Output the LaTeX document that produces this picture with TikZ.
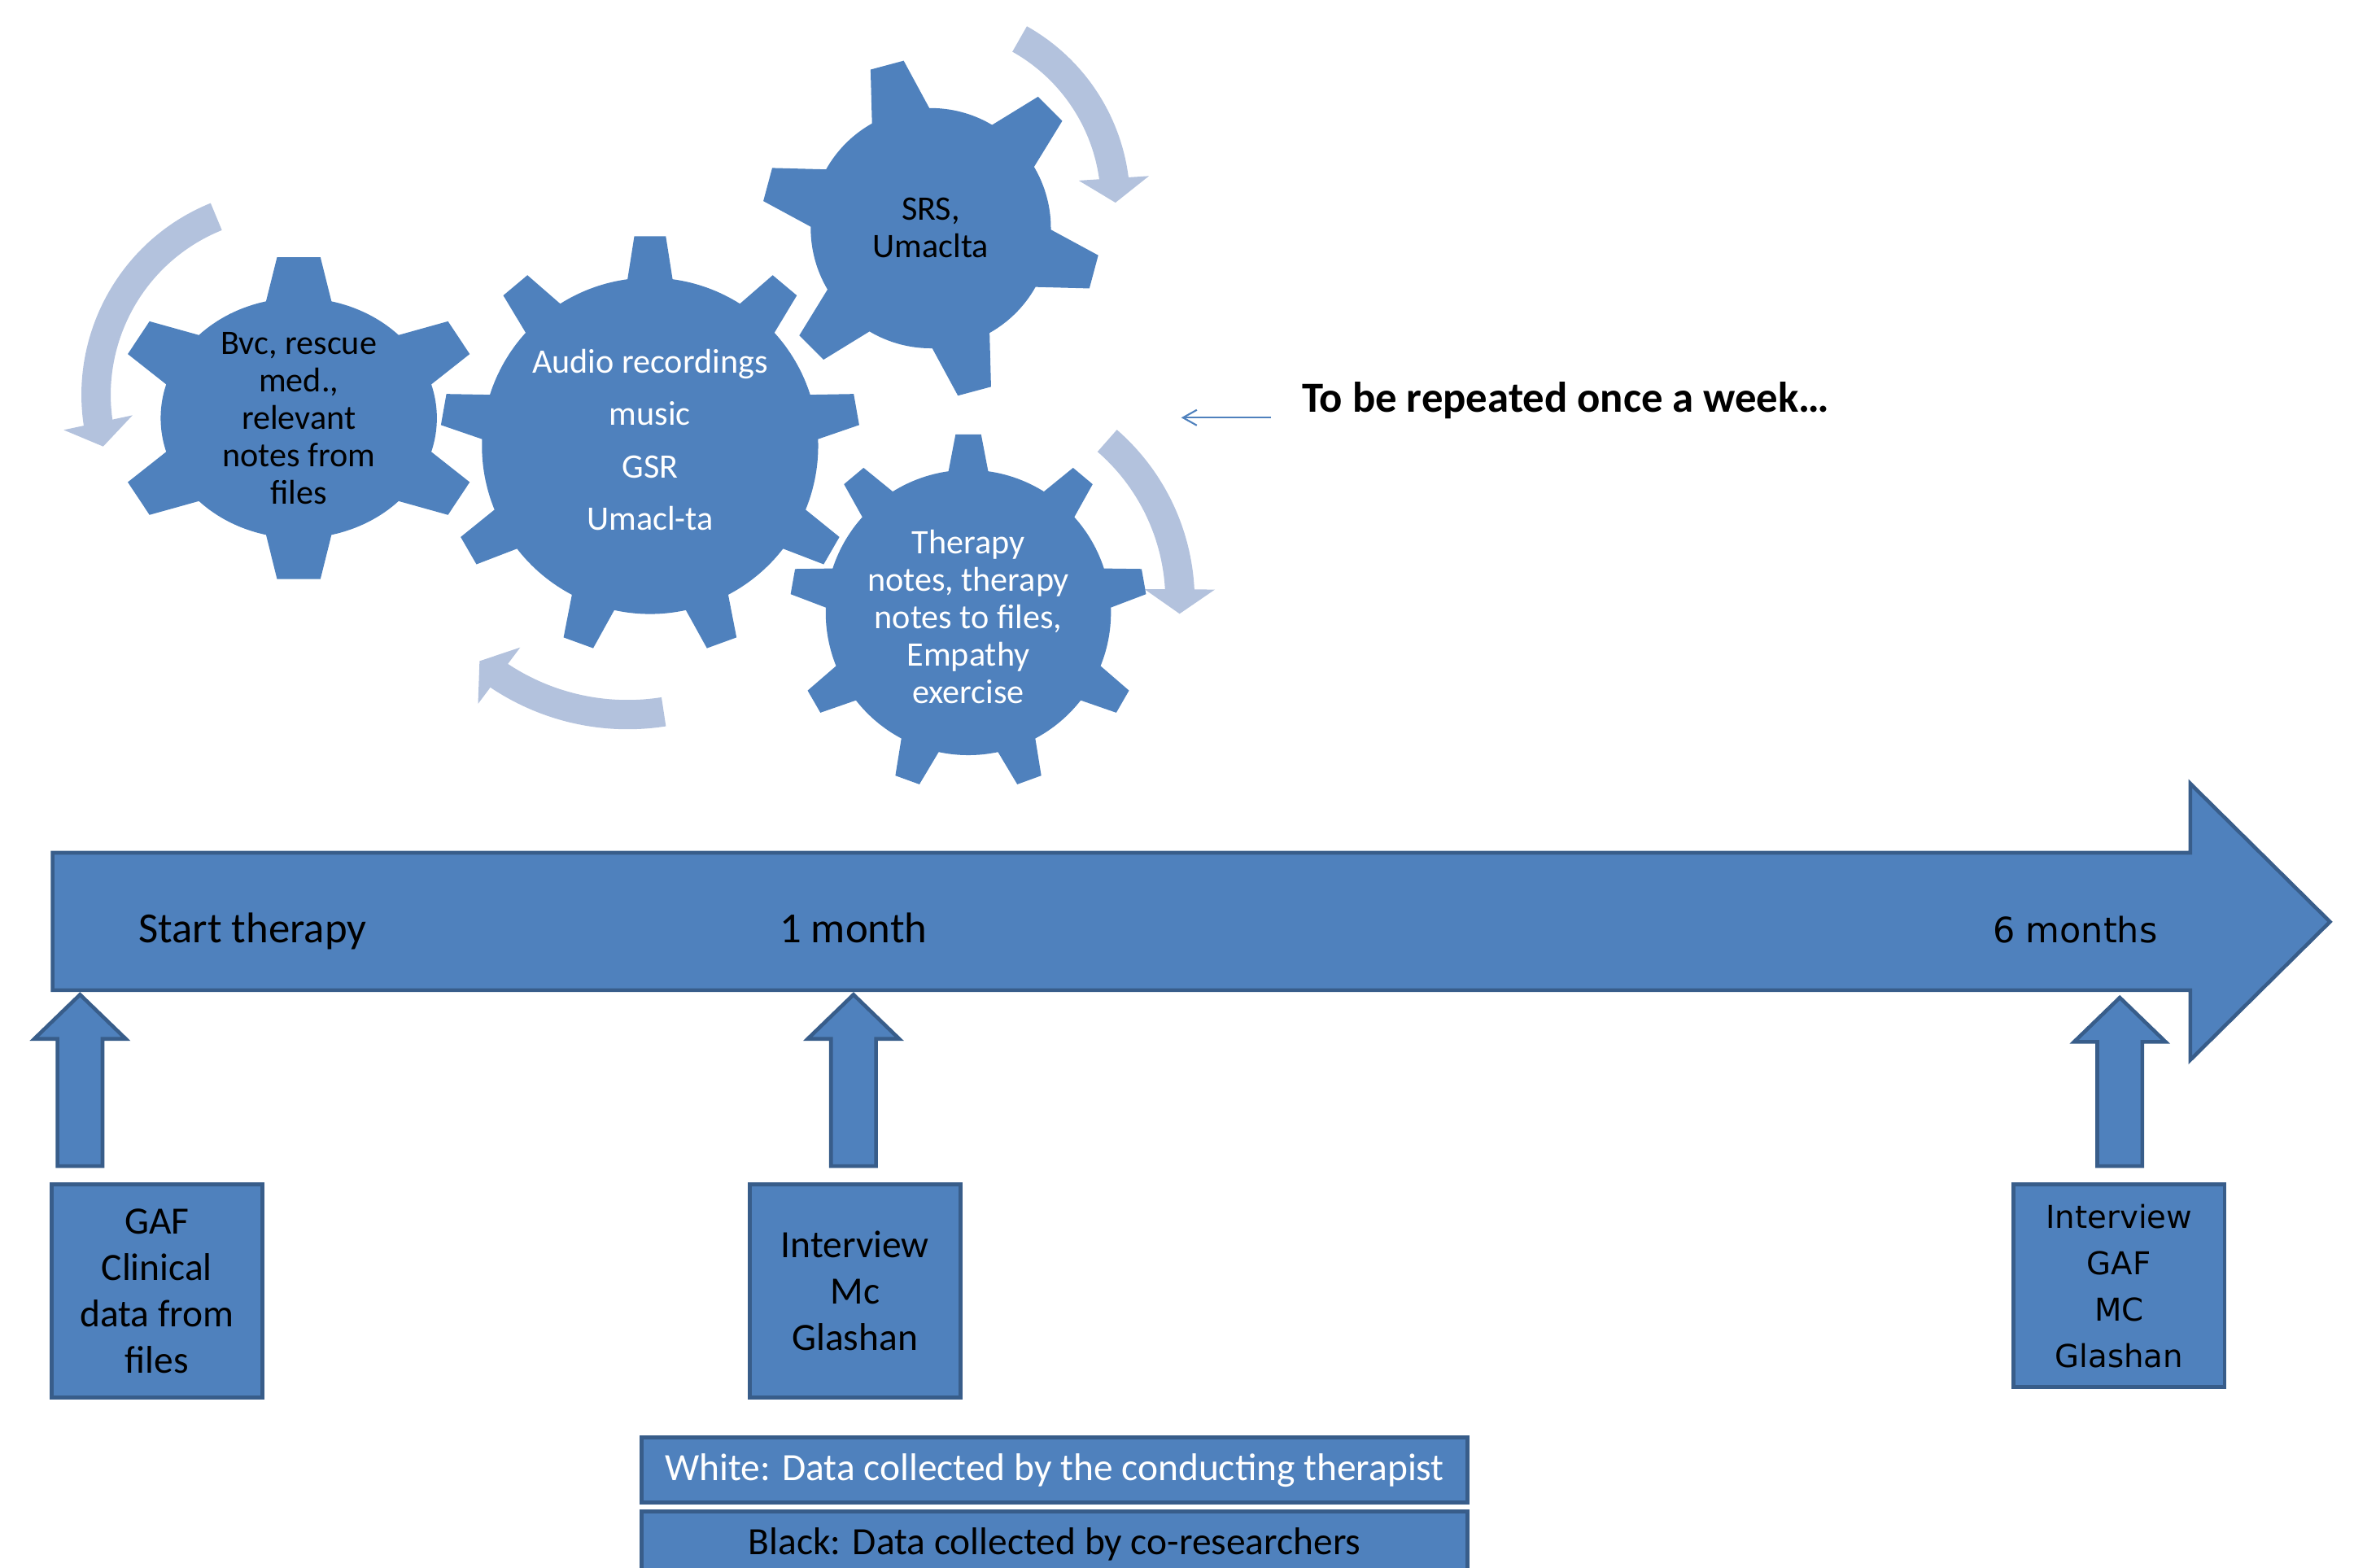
\documentclass[tikz,border=0pt]{standalone}
\usepackage{fontspec}
\setmainfont{Carlito}
\newfontfamily\verdana{DejaVu Sans}
\usetikzlibrary{calc,arrows.meta,bending}

\definecolor{gearblue}{HTML}{4F81BD}
\definecolor{darkblue}{HTML}{385D8A}
\definecolor{paleblue}{HTML}{B3C2DD}

% cog: [options]{inner r}{outer r}{teeth}{first tooth}{half base}{half tip}
\newcommand{\cog}[7][]{%
  \fill[gearblue,#1] ({#5-#6}:#2)
  \foreach \k in {1,...,#4}{
    -- ({#5+(\k-1)*360/#4-#7}:#3) -- ({#5+(\k-1)*360/#4+#7}:#3)
    -- ({#5+(\k-1)*360/#4+#6}:#2)
    arc[start angle={#5+(\k-1)*360/#4+#6}, end angle={#5+\k*360/#4-#6}, radius=#2]
  } -- cycle;}

% block arrow from a box up to the time line
\newcommand{\uparr}[2]{%
  \draw[blockline] (#2) -- ($(#2)+(30.5,-29.5)$) -- ($(#2)+(15,-29.5)$)
    -- ($(#1.north -| #2)+(15,11)$) -- ($(#1.north -| #2)+(-15,11)$)
    -- ($(#2)+(-15,-29.5)$) -- ($(#2)+(-30.5,-29.5)$) -- cycle;}

\begin{document}
\begin{tikzpicture}[x=0.01845cm,y=0.01845cm]
  \tikzset{
    blockline/.style = {draw=darkblue, fill=gearblue, line width=1.3pt, line join=miter},
    databox/.style   = {blockline, align=center, inner sep=0pt,
                        minimum width=2.59cm, minimum height=2.62cm,
                        font=\fontsize{13.5}{16.2}\selectfont},
    geartext/.style  = {align=center, inner sep=0pt, font=\fontsize{12}{13.1}\selectfont},
    turnarrow/.style = {draw=paleblue, line width=0.36cm,
                        -{Triangle[width=0.85cm 0, length=0.3cm 0]}},
    tlabel/.style    = {anchor=base west, inner sep=0pt, font=\fontsize{15}{18}\selectfont}
  }
  \useasboundingbox (0,0) rectangle (1568,-1044);

  % turning arrows
  \draw[turnarrow] (192,-263) ++(112:128) arc[start angle=112, end angle=195.6, radius=128];
  \draw[turnarrow] (418,-322) ++(-81:154) arc[start angle=-81, end angle=-129.8, radius=154];
  \draw[turnarrow] (618,-135) ++(60.7:125) arc[start angle=60.7, end angle=0, radius=125];
  \draw[turnarrow] (645,-400) ++(49:141) arc[start angle=49, end angle=-3.6, radius=141];

  % gears
  \cog[shift={(199,-278.5)},yscale=0.87]{92}{124}{6}{90}{13.7}{6.7}
  \cog[shift={(433,-297)}]{112}{140}{9}{90}{7.7}{4.3}
  \cog[shift={(620,-152)}]{80}{113}{6}{105}{14.3}{5.8}
  \cog[shift={(645,-408)}]{95}{119}{9}{90}{8}{4.1}

  \node[geartext] (bvc) at (199,-278.5) {Bvc, rescue\\med.,\\relevant\\notes from\\files};
  \node[geartext, text=white, font=\fontsize{12}{18.3}\selectfont] (audio) at (433,-293)
    {Audio recordings\\music\\GSR\\Umacl-ta};
  \node[geartext] (srs) at (620,-152) {SRS,\\Umaclta};
  \node[geartext, text=white] (therapy) at (645,-411)
    {Therapy\\notes, therapy\\notes to files,\\Empathy\\exercise};

  % weekly note
  \node[tlabel, font=\fontsize{15}{18}\selectfont\bfseries] (repeat) at (867,-274.3)
    {To be repeated once a week…};
  \coordinate (r1) at (846.6,-278.2);
  \coordinate (r2) at (786.8,-278.2);
  \draw[gearblue, line width=0.6pt, -{Straight Barb[length=0.17cm, width=0.19cm]}] (r1) -- (r2);

  % time line
  \draw[blockline] (35,-568) -- (1459,-568) -- (1459,-522) -- (1552,-614)
    -- (1459,-706) -- (1459,-659.5) -- (35,-659.5) -- cycle;
  \node[tlabel] (start) at (92,-627.8) {Start therapy};
  \node[tlabel] (month) at (519,-627.8) {1 month};
  \node[tlabel, font=\verdana\fontsize{12.2}{15}\selectfont] (half) at (1327,-628) {6 months};

  % data boxes
  \node[databox] (gaf) at (104.5,-860) {GAF\\Clinical\\data from\\files};
  \node[databox] (mcg) at (569.5,-860) {Interview\\Mc\\Glashan};
  \node[databox, minimum height=2.49cm, font=\verdana\fontsize{11}{16.2}\selectfont] (final)
    at (1411.5,-856.5) {Interview\\GAF\\MC\\Glashan};

  \coordinate (t0) at (53.3,-662.5);
  \coordinate (t1) at (568.5,-662.5);
  \coordinate (t6) at (1412,-664.5);
  \uparr{gaf}{t0}
  \uparr{mcg}{t1}
  \uparr{final}{t6}

  % legend
  \node[databox, text=white, minimum width=10.15cm, minimum height=0.8cm] (white)
    at (702.5,-979.2) {White: Data collected by the conducting therapist};
  \node[databox, minimum width=10.15cm, minimum height=0.8cm] (black)
    at (702.5,-1028.4) {Black: Data collected by co-researchers};
\end{tikzpicture}
\end{document}
